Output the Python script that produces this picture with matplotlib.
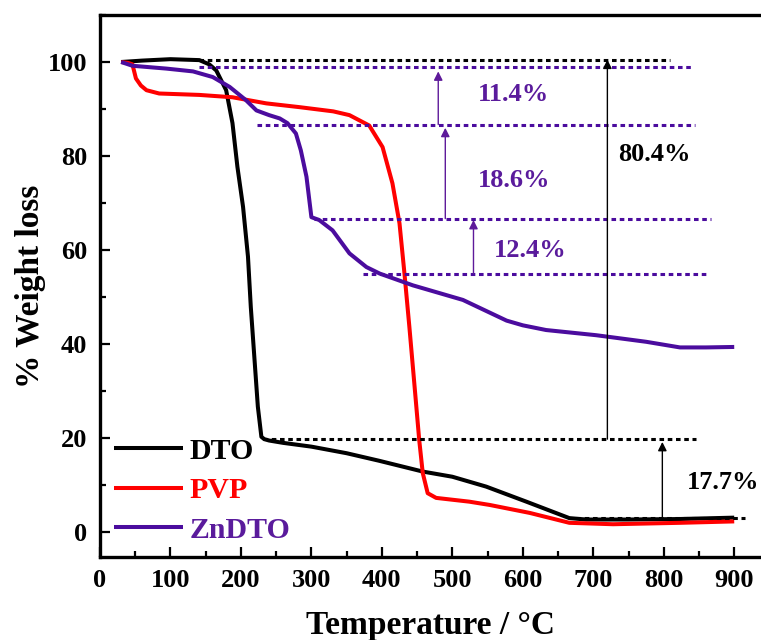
import numpy as np
import matplotlib
matplotlib.use('Agg')
import matplotlib.pyplot as plt
from matplotlib.ticker import MultipleLocator

plt.rcParams['font.family'] = ['Liberation Serif', 'DejaVu Serif']
plt.rcParams['font.weight'] = 'bold'

PURPLE = '#4B0C9E'
PURPLE_TXT = '#5A1B9C'

# TGA curves, temperature (C) vs remaining weight (%)
dto_t = [30, 60, 100, 141, 155, 165, 179, 188, 195, 203, 210, 214, 219, 224, 229,
         233, 240, 260, 300, 350, 396, 458, 500, 548, 605, 666, 690, 750, 820, 900]
dto_w = [100, 100.3, 100.6, 100.4, 99.5, 98.2, 94, 87, 77.7, 69.2, 58.6, 47.9, 37.3, 26.7, 20.3,
         19.8, 19.5, 19.0, 18.2, 16.8, 15.2, 12.9, 11.8, 9.7, 6.5, 3.0, 2.7, 2.7, 2.8, 3.1]

pvp_t = [30, 40, 46, 51, 58, 66, 84, 141, 188, 236, 283, 331, 354, 382, 401,
         415, 425, 432, 439, 446, 453, 458, 465, 477, 524, 553, 610, 666, 728, 823, 900]
pvp_w = [100, 99.8, 99.5, 96.5, 95, 94, 93.3, 93, 92.5, 91.2, 90.4, 89.5, 88.7, 86.5, 81.9,
         74.2, 65.7, 55.1, 43.7, 31.7, 19.6, 12.6, 8.3, 7.3, 6.5, 5.8, 4.1, 2.0, 1.7, 2.0, 2.3]

zn_t = [30, 46, 94, 132, 160, 184, 207, 222, 240, 255, 266, 278, 285, 293, 300, 311,
        330, 354, 378, 397, 444, 515, 577, 600, 633, 704, 775, 823, 860, 900]
zn_w = [100, 99.2, 98.6, 98, 96.8, 94.7, 91.9, 89.7, 88.7, 88.0, 87.0, 84.8, 81.2, 75.6, 67, 66.4,
        64.2, 59.3, 56.4, 55, 52.5, 49.4, 45, 44, 43, 41.9, 40.5, 39.3, 39.3, 39.4]

# dotted guide levels: (level, x start, x end, colour key)
guide_y = [100.5, 99.0, 86.7, 66.7, 55.0, 19.8, 3.0]
guide_x0 = [140, 140, 223, 304, 373, 231, 676]
guide_x1 = [809, 840, 845, 867, 862, 846, 915]
guide_c = ['k', 'p', 'p', 'p', 'p', 'k', 'k']

# step arrows: x, from, to, label, label x, label y, colour key
arrow_x = [720, 798, 480, 490, 530]
arrow_y0 = [19.8, 3.2, 86.7, 66.7, 55.0]
arrow_y1 = [100.5, 19.2, 98.0, 86.0, 66.4]
arrow_c = ['k', 'k', 'p', 'p', 'p']
step_labels = ['80.4%', '17.7%', '11.4%', '18.6%', '12.4%']
label_x = [787, 884, 587, 588, 611]
label_y = [80.4, 10.6, 93.1, 74.9, 60.0]

fig = plt.figure(figsize=(7.61, 6.40), dpi=100)
ax = fig.add_axes([0.1314, 0.1302, 0.8686, 0.8464])

kw = dict(lw=2.9, solid_joinstyle='round', solid_capstyle='butt')
ax.plot(dto_t, dto_w, color='black', label='DTO', **kw)
ax.plot(pvp_t, pvp_w, color='#FF0000', label='PVP', **kw)
ax.plot(zn_t, zn_w, color=PURPLE, label='ZnDTO', **kw)

cmap = {'k': 'black', 'p': PURPLE}
for y, x0, x1, c in zip(guide_y, guide_x0, guide_x1, guide_c):
    ax.plot([x0, x1], [y, y], color=cmap[c], lw=2.2, linestyle=(0, (1.5, 1.2)))

for x, y0, y1, c, s, lx, ly in zip(arrow_x, arrow_y0, arrow_y1, arrow_c,
                                   step_labels, label_x, label_y):
    ac = 'black' if c == 'k' else '#5E1A9A'
    ax.annotate('', xy=(x, y1), xytext=(x, y0),
                arrowprops=dict(arrowstyle='-|>', color=ac, lw=1.0,
                                mutation_scale=13, shrinkA=0, shrinkB=0))
    ax.text(lx, ly, s, ha='center', va='center', fontsize=19, fontweight='bold',
            color='black' if c == 'k' else PURPLE_TXT)

ax.set_xlim(0, 938)
ax.set_ylim(-5.2, 110)
ax.xaxis.set_major_locator(MultipleLocator(100))
ax.xaxis.set_minor_locator(MultipleLocator(50))
ax.yaxis.set_major_locator(MultipleLocator(20))
ax.yaxis.set_minor_locator(MultipleLocator(10))
ax.set_yticks([0, 20, 40, 60, 80, 100])
ax.tick_params(which='both', direction='in', width=1.6, labelsize=19, pad=9)
ax.tick_params(which='major', length=7)
ax.tick_params(which='minor', length=4.5)
for lab in ax.get_xticklabels() + ax.get_yticklabels():
    lab.set_fontweight('bold')

ax.spines['right'].set_visible(False)
for side in ['top', 'left', 'bottom']:
    ax.spines[side].set_linewidth(2.4)

ax.set_xlabel('Temperature / °C', fontsize=24, fontweight='bold', labelpad=12.5)
ax.set_ylabel('% Weight loss', fontsize=24, fontweight='bold', labelpad=1.5)

leg = ax.legend(loc='lower left', bbox_to_anchor=(0.021, 0.024), frameon=False,
                fontsize=21.5, handlelength=2.3, handletextpad=0.22,
                labelspacing=0.42, borderpad=0, borderaxespad=0)
for txt, col in zip(leg.get_texts(), ['black', '#FF0000', PURPLE_TXT]):
    txt.set_color(col)
    txt.set_fontweight('bold')

fig.savefig('out.png', dpi=100)
